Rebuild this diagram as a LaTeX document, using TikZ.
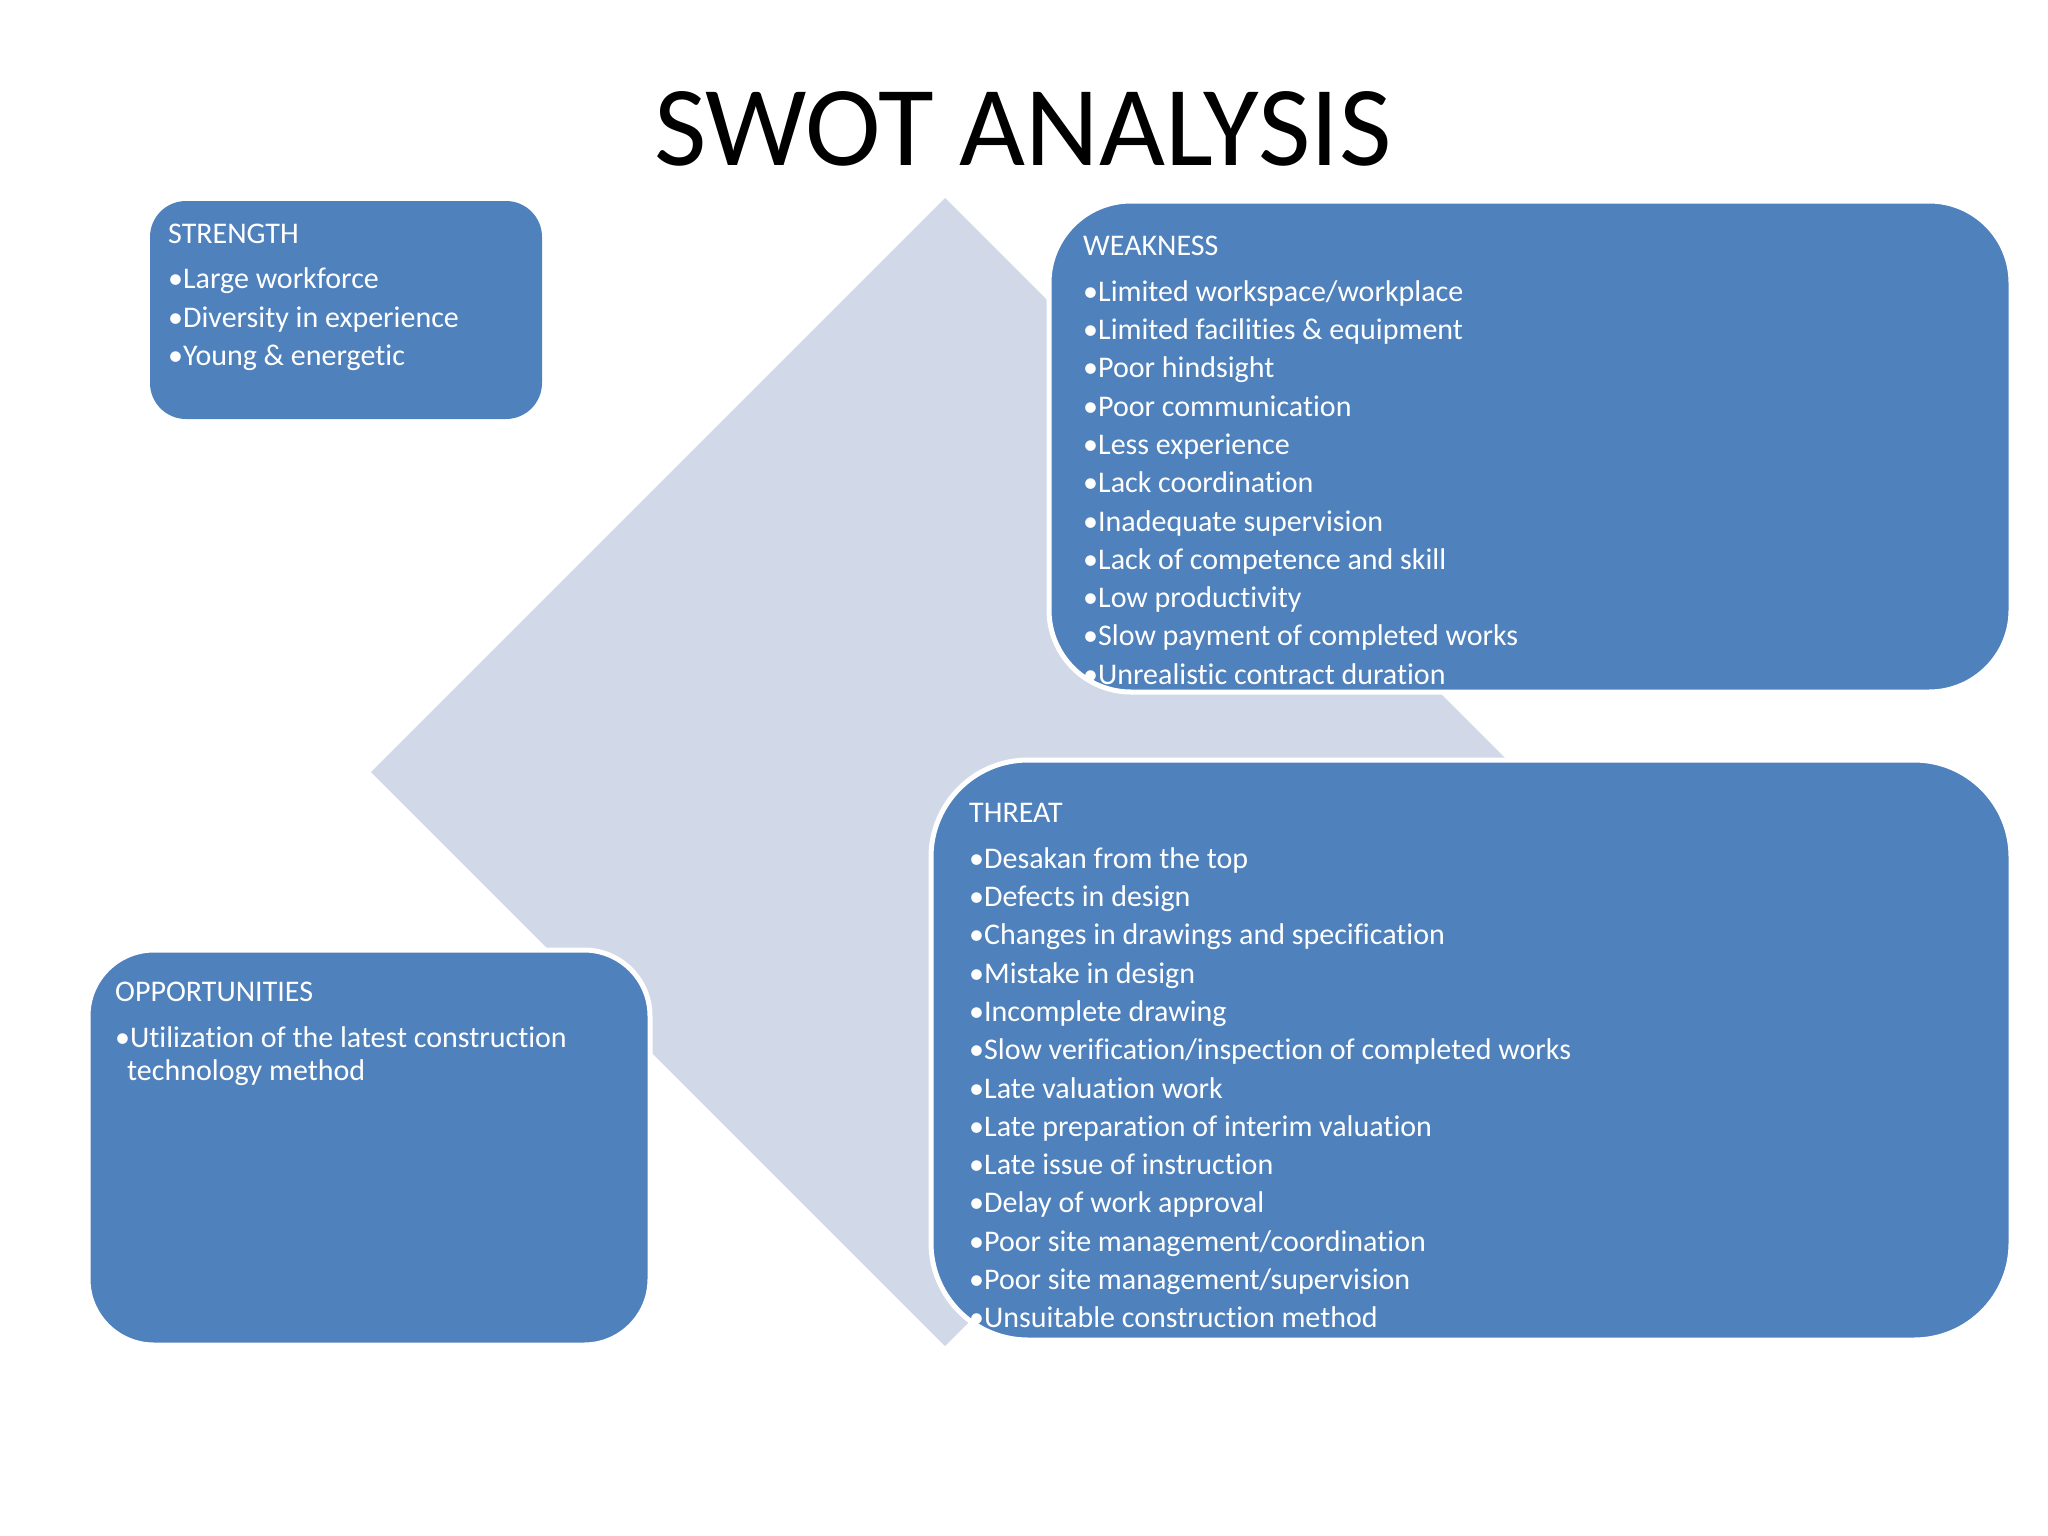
\documentclass[tikz,border=0pt]{standalone}
\usepackage{fontspec}
\setmainfont{Carlito}[RawFeature=-liga,RawFeature=-clig,RawFeature=-dlig,RawFeature=-calt]
\usetikzlibrary{positioning}

\definecolor{swotblue}{HTML}{4F81BD}
\definecolor{diamondgray}{HTML}{D1D8E8}

\begin{document}
\begin{tikzpicture}[x=1pt,y=-1pt,node distance=38.3pt,
    box/.style={fill=swotblue,draw=white,line width=5pt},
    head/.style={anchor=base west,inner sep=0pt,text=white,font=\fontsize{30}{36}\selectfont},
    item/.style={head},
    under/.style={below=of #1.base west,anchor=base west},
    lead/.style={below=45.5pt of #1.base west,anchor=base west}]

            \useasboundingbox (0,0) rectangle (2048,1536);

            % background diamond
            \fill[diamondgray] (945,198) -- (1519,772) -- (945,1346) -- (371,772) -- cycle;

            % the four boxes
            \path[box,line width=0pt,draw=none,rounded corners=36pt] (150,201) rectangle (542,419);
            \path[box,rounded corners=82pt] (1049,201) rectangle (2011,692);
            \path[box,rounded corners=97pt] (931,760) rectangle (2011,1340);
            \path[box,rounded corners=66pt] (88,950) rectangle (650,1345);

            \node[anchor=base,inner sep=0pt,font=\fontsize{114}{120}\selectfont] (title) at (1023,165) {SWOT ANALYSIS};

            % strength
            \node[head] (s0) at (168,243.3) {STRENGTH};
            \node[item] (s1) [lead=s0]  {\textbullet Large workforce};
            \node[item] (s2) [under=s1] {\textbullet Diversity in experience};
            \node[item] (s3) [under=s2] {\textbullet Young \& energetic};

            % weakness
            \node[head] (w0) at (1083,255.7) {WEAKNESS};
            \node[item] (w1)  [lead=w0]   {\textbullet Limited workspace/workplace};
            \node[item] (w2)  [under=w1]  {\textbullet Limited facilities \& equipment};
            \node[item] (w3)  [under=w2]  {\textbullet Poor hindsight};
            \node[item] (w4)  [under=w3]  {\textbullet Poor communication};
            \node[item] (w5)  [under=w4]  {\textbullet Less experience};
            \node[item] (w6)  [under=w5]  {\textbullet Lack coordination};
            \node[item] (w7)  [under=w6]  {\textbullet Inadequate supervision};
            \node[item] (w8)  [under=w7]  {\textbullet Lack of competence and skill};
            \node[item] (w9)  [under=w8]  {\textbullet Low productivity};
            \node[item] (w10) [under=w9]  {\textbullet Slow payment of completed works};
            \node[item] (w11) [under=w10] {\textbullet Unrealistic contract duration};

            % threat
            \node[head] (t0) at (969,822.7) {THREAT};
            \node[item] (t1)  [lead=t0]   {\textbullet Desakan from the top};
            \node[item] (t2)  [under=t1]  {\textbullet Defects in design};
            \node[item] (t3)  [under=t2]  {\textbullet Changes in drawings and specification};
            \node[item] (t4)  [under=t3]  {\textbullet Mistake in design};
            \node[item] (t5)  [under=t4]  {\textbullet Incomplete drawing};
            \node[item] (t6)  [under=t5]  {\textbullet Slow verification/inspection of completed works};
            \node[item] (t7)  [under=t6]  {\textbullet Late valuation work};
            \node[item] (t8)  [under=t7]  {\textbullet Late preparation of interim valuation};
            \node[item] (t9)  [under=t8]  {\textbullet Late issue of instruction};
            \node[item] (t10) [under=t9]  {\textbullet Delay of work approval};
            \node[item] (t11) [under=t10] {\textbullet Poor site management/coordination};
            \node[item] (t12) [under=t11] {\textbullet Poor site management/supervision};
            \node[item] (t13) [under=t12] {\textbullet Unsuitable construction method};

            % opportunities
            \node[head] (o0) at (115,1001.7) {OPPORTUNITIES};
            \node[item] (o1) [lead=o0] {\textbullet Utilization of the latest construction};
            \node[item] (o2) [below=33pt of o1.base west,anchor=base west,xshift=12pt] {technology method};

\end{tikzpicture}
\end{document}
